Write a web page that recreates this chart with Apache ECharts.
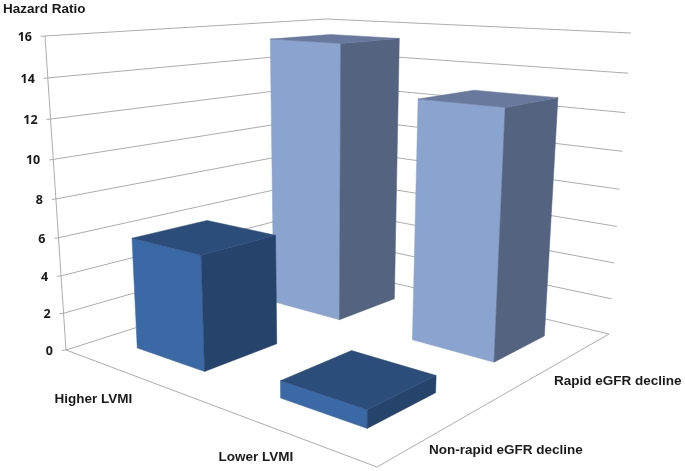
<!DOCTYPE html>
<html><head><meta charset="utf-8">
<style>html,body{margin:0;padding:0;background:#fff}#c{width:685px;height:471px}</style>
<script src="https://cdn.jsdelivr.net/npm/echarts@6/dist/echarts.min.js"></script>
</head><body><div id="c"></div>
<script>
// ---- data ----
const lvmiCategories = ['Higher LVMI', 'Lower LVMI'];
const declineCategories = ['Non-rapid eGFR decline', 'Rapid eGFR decline'];
const higherLvmiValues = [5.9, 15.3];   // non-rapid, rapid
const lowerLvmiValues = [0.85, 12.8];   // non-rapid, rapid
const yTicks = [0, 2, 4, 6, 8, 10, 12, 14, 16];
const yTitle = 'Hazard Ratio';

// ---- camera calibration ----
const floorQuad = [[66,350],[377,467],[609,334],[326,267]];
const topQuad = [[45,36],[383,61],[631,33],[326,19]];
const perspective = 1.079;
const barHalfFraction = 0.25;
const palette = [
  {front:'#3b69a6', side:'#26436c', top:'#2c4c7a'},
  {front:'#8ba4cf', side:'#54637f', top:'#68799d'}
];

function quadMap(q) {
  const [[x0,y0],[x1,y1],[x2,y2],[x3,y3]] = q;
  const dx1=x1-x2, dx2=x3-x2, sx=x0-x1+x2-x3, dy1=y1-y2, dy2=y3-y2, sy=y0-y1+y2-y3;
  const den=dx1*dy2-dx2*dy1;
  const g=(sx*dy2-dx2*sy)/den, k=(dx1*sy-sx*dy1)/den;
  const a=x1-x0+g*x1, b=x3-x0+k*x3, d=y1-y0+g*y1, e=y3-y0+k*y3;
  return (s,t)=>{const w=1+g*s+k*t; return [(a*s+b*t+x0)/w,(d*s+e*t+y0)/w];};
}
const floorMap = quadMap(floorQuad), topMap = quadMap(topQuad);
function project(s,t,h){
  const f=floorMap(s,t), u=topMap(s,t);
  const r = h<=0?0 : h/(h+(1-h)*perspective);
  return [f[0]+(u[0]-f[0])*r, f[1]+(u[1]-f[1])*r];
}
// fraction of the value axis, from the library's own scale
function heightOf(api,v){
  const y0=api.coord([0,0])[1], y1=api.coord([0,16])[1];
  return (api.coord([0,v])[1]-y0)/(y1-y0);
}
const LINE='#adadad';
function line(points,w){return {type:'polyline',shape:{points},style:{fill:null,stroke:LINE,lineWidth:w||1}};}

const barData=[];
[1,0].forEach(j=>{[0,1].forEach(i=>{
  barData.push([i,j,(i===0?higherLvmiValues:lowerLvmiValues)[j]]);
});});

const chart=echarts.init(document.getElementById('c'),null,{renderer:'canvas'});
chart.setOption({
  animation:false,
  backgroundColor:'#fff',
  grid:{left:0,right:0,top:0,bottom:0},
  xAxis:{type:'category',data:lvmiCategories,show:false},
  yAxis:{type:'value',min:0,max:16,interval:2,show:false},
  series:[
    {type:'custom',name:'walls',coordinateSystem:'cartesian2d',silent:true,clip:false,z:1,
     data:yTicks.map(v=>[0,v]),encode:{x:0,y:1},
     renderItem(params,api){
       const v=api.value(1), h=heightOf(api,v);
       const a=project(0,0,h), d=project(0,1,h), c=project(1,1,h);
       const kids=[line([a,d,c]),line([[a[0]-4,a[1]+0.5],a])];
       kids.push({type:'text',style:{text:String(v),x:a[0]-13,y:a[1]+1.5,align:'right',verticalAlign:'middle',
         font:'bold 12.5px "Open Sans"',fill:'#1a1a1a'}});
       if(params.dataIndex===0){
         kids.push(line([project(0,0,0),project(1,0,0),project(1,1,0)]));
         kids.push(line([project(0,0,0),project(0,0,1)]));
       }
       return {type:'group',children:kids};
     }},
    {type:'custom',name:'bars',coordinateSystem:'cartesian2d',silent:true,clip:false,z:2,
     data:barData,encode:{x:0,y:2},
     renderItem(params,api){
       const i=api.value(0), j=api.value(1), h=heightOf(api,api.value(2));
       const W=api.getWidth();
       const s=api.coord([i,0])[0]/W, half=api.size([1,0])[0]/W*barHalfFraction;
       const t=(j+0.5)/declineCategories.length;
       const s0=s-half,s1=s+half,t0=t-half,t1=t+half;
       const col=palette[j];
       const poly=(pts,fill)=>({type:'polygon',shape:{points:pts},style:{fill,stroke:fill,lineWidth:0.5}});
       return {type:'group',children:[
         poly([project(s0,t0,0),project(s1,t0,0),project(s1,t0,h),project(s0,t0,h)],col.front),
         poly([project(s1,t0,0),project(s1,t1,0),project(s1,t1,h),project(s1,t0,h)],col.side),
         poly([project(s0,t0,h),project(s1,t0,h),project(s1,t1,h),project(s0,t1,h)],col.top)
       ]};
     }},
    {type:'custom',name:'axis labels',coordinateSystem:'cartesian2d',silent:true,clip:false,z:3,
     data:[[0,0]],encode:{x:0,y:1},
     renderItem(params,api){
       const font='bold 13.5px "Liberation Sans"';
       const txt=(text,p,dx,dy)=>({type:'text',style:{text,x:p[0]+dx,y:p[1]+dy,align:'center',verticalAlign:'middle',font,fill:'#1a1a1a'}});
       const W=api.getWidth();
       const kids=[];
       lvmiCategories.forEach((n,i)=>{
         const s=api.coord([i,0])[0]/W;
         kids.push(txt(n,project(s,0,0),i===0?-36:-27,i===0?25:26));
       });
       declineCategories.forEach((n,j)=>{
         const t=(j+0.5)/declineCategories.length;
         kids.push(txt(n,project(1,t,0),j===0?56:54,j===0?25:21));
       });
       kids.push({type:'text',style:{text:yTitle,x:3,y:9,align:'left',verticalAlign:'middle',font:'bold 13.5px "Liberation Sans"',fill:'#1a1a1a'}});
       return {type:'group',children:kids};
     }}
  ]
});
</script></body></html>
